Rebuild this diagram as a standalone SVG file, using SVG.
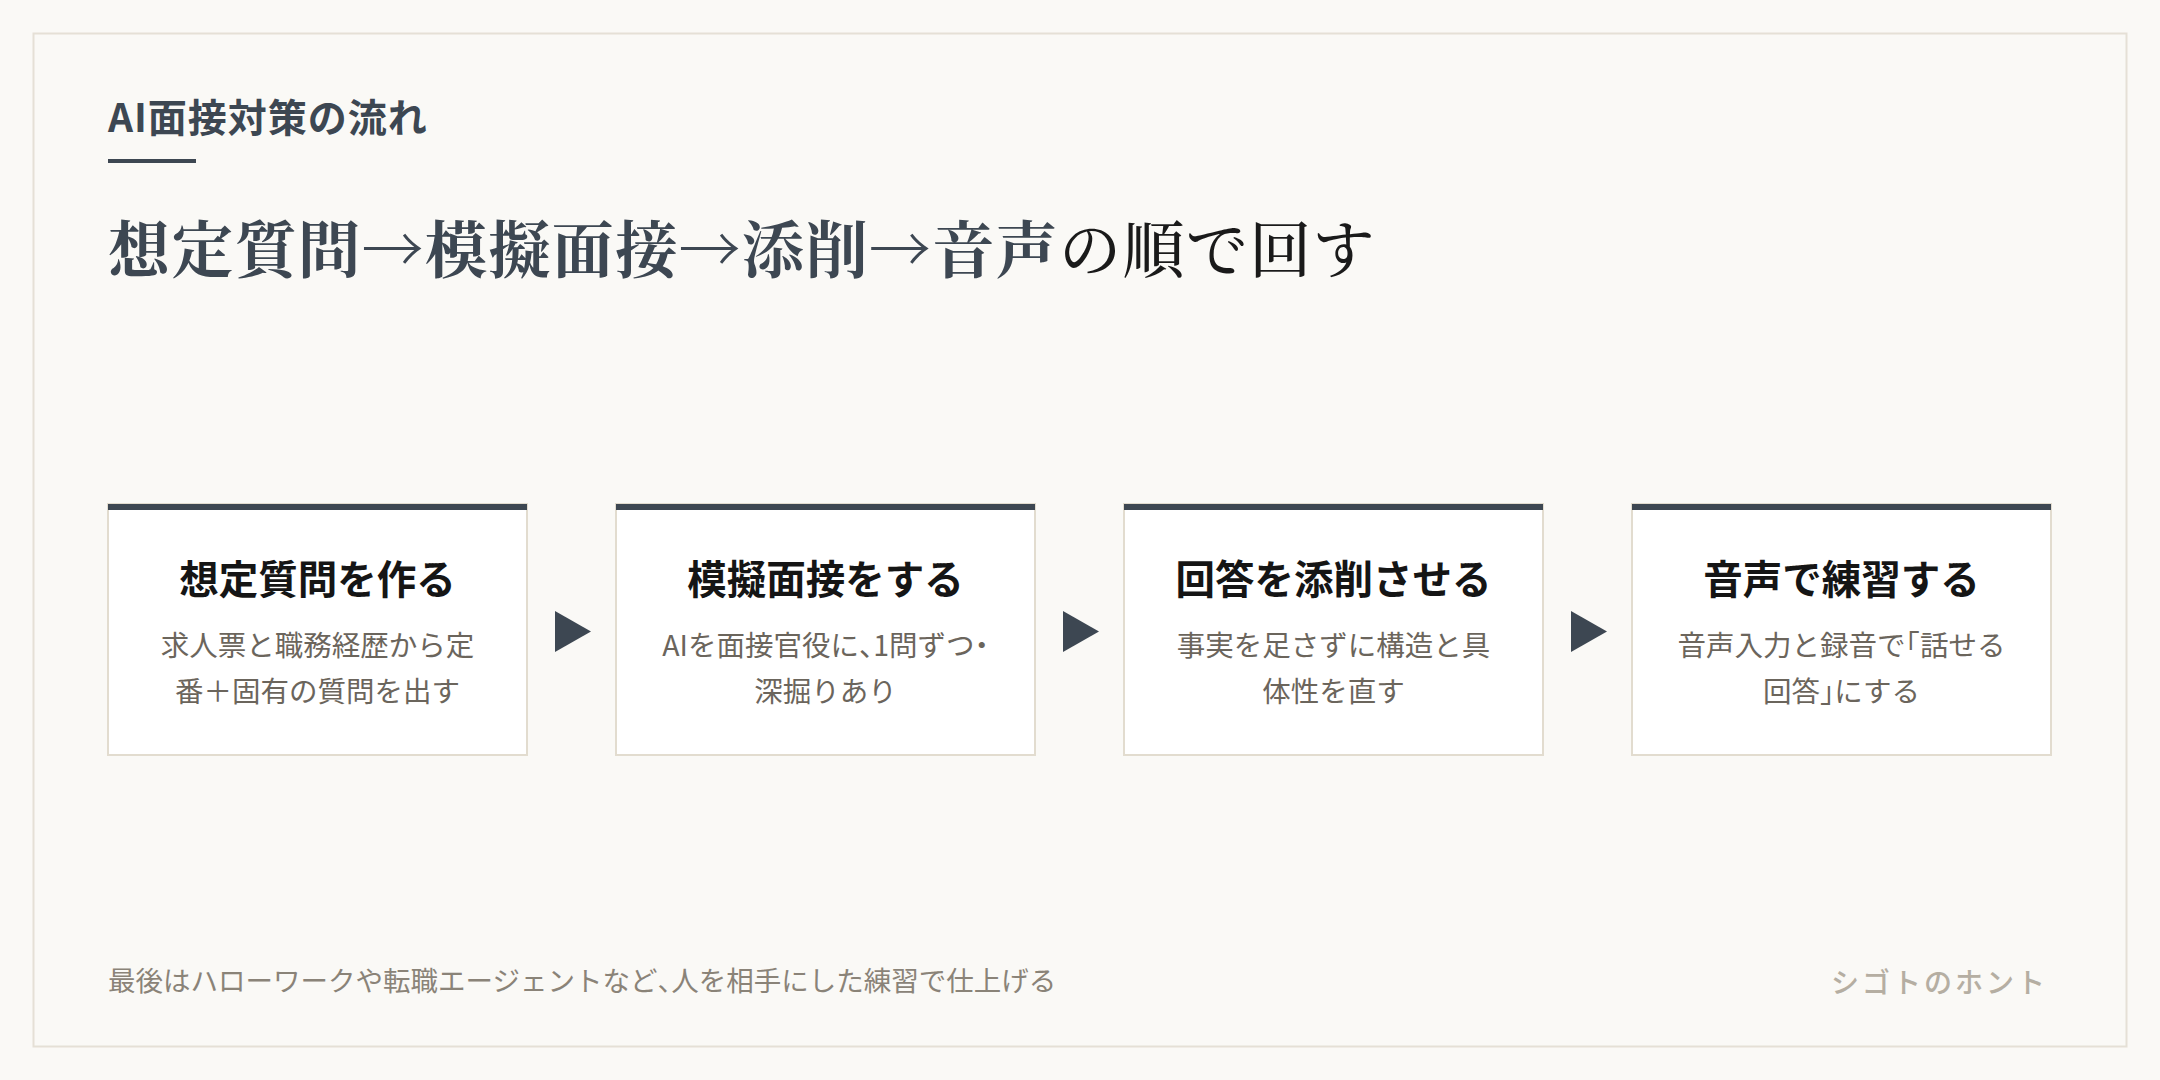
<svg xmlns="http://www.w3.org/2000/svg" width="2160" height="1080" viewBox="0 0 2160 1080">
<style>
.sans{font-family:"Noto Sans CJK JP","Noto Sans",sans-serif}
.kicker{font-size:39px;font-weight:700;fill:#3d4752;letter-spacing:1px}
.head{font-family:"Noto Serif CJK JP","Liberation Serif",serif;font-size:62px;letter-spacing:1.4px}
.hb{font-weight:700;fill:#3d4752}
.hr{font-weight:500;fill:#1a1a1a}
.card{fill:#ffffff;stroke:#e2dccf;stroke-width:2}
.bar{fill:#3d4752}
.ct{font-size:39.5px;font-weight:700;fill:#151515;text-anchor:middle}
.cd{font-size:28.5px;font-weight:400;fill:#6b655c;text-anchor:middle}
.h{font-feature-settings:"halt"}
.arrow{fill:#3d4752}
.foot{font-size:27.5px;fill:#8a8378}
.brand{font-size:28px;font-weight:500;fill:#b5aea2;text-anchor:end;letter-spacing:3px}
</style>
<rect width="2160" height="1080" fill="#faf9f6"/>
<rect x="33.5" y="33.5" width="2093" height="1013" fill="#faf9f6" stroke="#e5e0d6" stroke-width="2"/>
<g id="header">
<text class="sans kicker" x="108" y="132">AI面接対策の流れ</text>
<rect x="108" y="159" width="88" height="4" fill="#3d4752"/>
<text class="head" x="108" y="273"><tspan class="hb">想定質問→模擬面接→添削→音声</tspan><tspan class="hr">の順で回す</tspan></text>
</g>
<g id="connectors">
<polygon class="arrow" points="555,611 591,631.5 555,652"/>
<polygon class="arrow" points="1063,611 1099,631.5 1063,652"/>
<polygon class="arrow" points="1571,611 1607,631.5 1571,652"/>
</g>
<g id="step1">
<rect class="card" x="108" y="504" width="419" height="251"/>
<rect class="bar" x="108" y="504" width="419" height="6"/>
<text class="sans ct" x="317.5" y="594">想定質問を作る</text>
<text class="sans cd" x="317.5" y="656">求人票と職務経歴から定</text>
<text class="sans cd" x="317.5" y="702">番＋固有の質問を出す</text>
</g>
<g id="step2">
<rect class="card" x="616" y="504" width="419" height="251"/>
<rect class="bar" x="616" y="504" width="419" height="6"/>
<text class="sans ct" x="825.5" y="594">模擬面接をする</text>
<text class="sans cd" x="825.5" y="656">AIを面接官役に<tspan class="h">、</tspan>1問ずつ<tspan class="h">・</tspan></text>
<text class="sans cd" x="825.5" y="702">深掘りあり</text>
</g>
<g id="step3">
<rect class="card" x="1124" y="504" width="419" height="251"/>
<rect class="bar" x="1124" y="504" width="419" height="6"/>
<text class="sans ct" x="1333.5" y="594">回答を添削させる</text>
<text class="sans cd" x="1333.5" y="656">事実を足さずに構造と具</text>
<text class="sans cd" x="1333.5" y="702">体性を直す</text>
</g>
<g id="step4">
<rect class="card" x="1632" y="504" width="419" height="251"/>
<rect class="bar" x="1632" y="504" width="419" height="6"/>
<text class="sans ct" x="1841.5" y="594">音声で練習する</text>
<text class="sans cd" x="1841.5" y="656">音声入力と録音で<tspan class="h">「</tspan>話せる</text>
<text class="sans cd" x="1841.5" y="702">回答<tspan class="h">」</tspan>にする</text>
</g>
<g id="footer">
<text class="sans foot" x="108" y="991">最後はハローワークや転職エージェントなど<tspan class="h">、</tspan>人を相手にした練習で仕上げる</text>
<text class="sans brand" x="2048" y="993">シゴトのホント</text>
</g>
</svg>
